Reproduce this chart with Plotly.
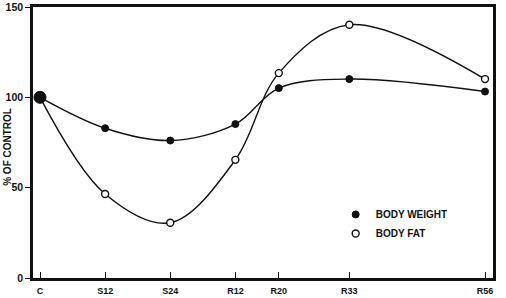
import plotly.graph_objects as go

# Data
categories = ["C", "S12", "S24", "R12", "R20", "R33", "R56"]
x_positions = [0, 12, 24, 36, 44, 57, 82]
body_weight = [100, 82.9, 76.1, 85.2, 105.1, 110.1, 103.2]
body_fat = [100, 46.5, 30.6, 65.4, 113.4, 140.2, 110.1]
y_ticks = [0, 50, 100, 150]
y_ticktext = ["0", "50", "100", "150"]

INK = "#111111"
FONT = dict(family="Liberation Sans", size=9, color=INK, weight="bold")
YFONT = dict(family="Liberation Sans", size=10.5, color=INK, weight="bold")

fig = go.Figure()

fig.add_trace(go.Scatter(
    x=x_positions, y=body_fat, mode="lines+markers",
    line=dict(color=INK, width=1.4, shape="spline", smoothing=1.0),
    marker=dict(symbol="circle", size=7, color="white", opacity=1,
                line=dict(color=INK, width=1.4)),
    showlegend=False))

fig.add_trace(go.Scatter(
    x=x_positions, y=body_weight, mode="lines+markers",
    line=dict(color=INK, width=1.4, shape="spline", smoothing=1.0),
    marker=dict(symbol="circle", size=[12, 7, 7, 7, 7, 7, 7], color=INK, opacity=1,
                line=dict(color=INK, width=1)),
    showlegend=False))

# legend-only entries
fig.add_trace(go.Scatter(
    x=[None], y=[None], mode="markers", name="BODY WEIGHT",
    marker=dict(symbol="circle", size=7, color=INK, opacity=1, line=dict(color=INK, width=1))))
fig.add_trace(go.Scatter(
    x=[None], y=[None], mode="markers", name="BODY FAT",
    marker=dict(symbol="circle", size=7, color="white", opacity=1, line=dict(color=INK, width=1.4))))

fig.update_layout(
    width=506, height=298,
    margin=dict(l=33, r=13, t=7, b=20),
    paper_bgcolor="white", plot_bgcolor="white",
    font=FONT,
    showlegend=True,
    legend=dict(x=0.658, y=0.288, xanchor="left", yanchor="top",
                bgcolor="rgba(0,0,0,0)",
                font=dict(family="Liberation Sans", size=10, color=INK, weight="bold"),
                itemwidth=30, tracegroupgap=0),
    xaxis=dict(range=[-1.29, 83.47], tickmode="array", tickvals=x_positions,
               ticktext=categories, ticks="inside", ticklen=6, tickwidth=1.2,
               tickcolor=INK, showgrid=False, zeroline=False,
               showline=True, linecolor=INK, linewidth=2.5, mirror=True,
               tickfont=FONT, ticklabelstandoff=2, automargin=False),
    yaxis=dict(range=[0, 150], tickmode="array", tickvals=y_ticks,
               ticktext=y_ticktext, ticks="outside", ticklen=5, tickwidth=1.2,
               tickcolor=INK, showgrid=False, zeroline=False,
               showline=True, linecolor=INK, linewidth=2.5, mirror=True,
               tickfont=YFONT, ticklabelstandoff=0, automargin=False),
    annotations=[dict(text="% OF CONTROL", xref="paper", yref="paper",
                      x=-0.056, y=0.485, xanchor="center", yanchor="middle",
                      textangle=-90, showarrow=False,
                      font=dict(family="Liberation Sans", size=10, color=INK, weight="bold"))],
)

fig.write_html("out.html")
